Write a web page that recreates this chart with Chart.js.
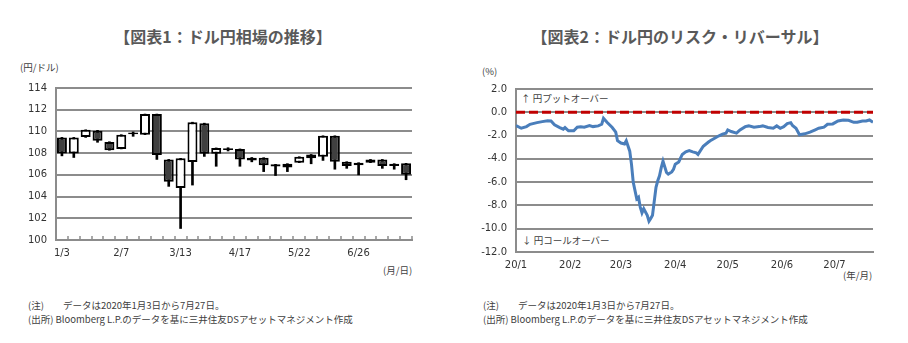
<!DOCTYPE html>
<html lang="ja">
<head>
<meta charset="UTF-8">
<title>ドル円相場とリスク・リバーサル</title>
<script src="https://cdn.jsdelivr.net/npm/chart.js"></script>
<style>
    body {
        margin: 0;
        width: 908px;
        height: 343px;
        background: #ffffff;
        position: relative;
        overflow: hidden;
        font-family: "Noto Sans CJK JP", "DejaVu Sans", sans-serif;
        color: #404040;
    }
    .title {
        position: absolute;
        top: 26px;
        line-height: 20px;
        font-size: 16px;
        font-weight: bold;
        color: #595959;
        text-align: center;
    }
    .unit, .note {
        position: absolute;
        font-size: 9.5px;
        line-height: 13px;
        color: #404040;
        white-space: nowrap;
    }
    .note { font-size: 9.5px; line-height: 14px; }
    canvas { position: absolute; }
</style>
</head>
<body>
<div class="title" style="left:0; width:446px;">【図表1：ドル円相場の推移】</div>
<div class="title" style="left:454px; width:452px;">【図表2：ドル円のリスク・リバーサル】</div>

<div class="unit" style="left:20px; top:61px;">(円/ドル)</div>
<div class="unit" style="left:383px; top:264px;">(月/日)</div>
<div class="unit" style="left:482px; top:65px;">(%)</div>
<div class="unit" style="left:843px; top:269px;">(年/月)</div>
<div class="unit" style="left:521px; top:92px;">↑ 円プットオーバー</div>
<div class="unit" style="left:522px; top:234px;">↓ 円コールオーバー</div>

<div class="note" style="left:28px; top:298px;">(注)　　データは2020年1月3日から7月27日。<br>(出所) Bloomberg L.P.のデータを基に三井住友DSアセットマネジメント作成</div>
<div class="note" style="left:483px; top:298px;">(注)　　データは2020年1月3日から7月27日。<br>(出所) Bloomberg L.P.のデータを基に三井住友DSアセットマネジメント作成</div>

<canvas id="candleChart" width="454" height="197" style="left:0; top:73px;"></canvas>
<canvas id="rrChart" width="454" height="206" style="left:454px; top:74px;"></canvas>

<script>
    // 図表1: weekly USD/JPY (open, high, low, close)
    const weekLabels = ['1/3','1/10','1/17','1/24','1/31','2/7','2/14','2/21','2/28','3/6',
                        '3/13','3/20','3/27','4/3','4/10','4/17','4/24','5/1','5/8','5/15',
                        '5/22','5/29','6/5','6/12','6/19','6/26','7/3','7/10','7/17','7/24'];
    const openVals  = [109.45,107.97,109.48,110.06,109.03,108.39,109.90,109.70,111.60,107.42,
                       104.79,107.18,110.76,107.94,108.45,108.39,107.58,107.58,106.97,106.67,
                       107.12,107.52,107.67,109.60,107.21,106.88,107.12,107.42,107.03,107.06];
    const highVals  = [109.45,109.45,110.15,110.10,109.05,109.70,109.95,111.60,111.60,107.42,
                       107.52,110.85,110.76,108.48,108.50,108.39,107.60,107.58,106.97,107.03,
                       107.67,107.88,109.60,109.60,107.21,107.12,107.42,107.42,107.03,107.06];
    const lowVals   = [107.75,107.60,109.45,109.00,108.27,108.39,109.55,109.70,107.42,104.94,
                       101.06,105.06,107.70,106.79,108.20,106.79,107.20,106.30,105.94,106.30,
                       107.12,107.02,107.33,106.52,106.60,106.00,107.12,106.60,106.52,105.55];
    const closeVals = [107.97,109.45,110.15,109.15,108.27,109.70,109.75,111.60,107.82,105.36,
                       107.52,110.85,107.94,108.48,108.30,107.42,107.33,106.88,106.76,107.03,
                       107.67,107.88,109.60,107.21,106.82,107.12,107.42,106.82,106.82,106.00];

    // 図表2: risk reversal (days from 2020/1/1, %)
    const rrDays   = [0,3,6,8,12,15,18,20,22,25,27,28,30,33,35,37,39,42,44,47,49,50,52,55,57,58,
                      60,62,63,65,66,67,69,70,71,72,73,75,76,77,78,80,81,82,83,84,86,87,89,90,
                      91,93,95,97,99,101,103,104,107,110,111,113,116,118,120,121,123,126,128,131,
                      133,136,139,141,144,147,149,151,153,155,157,158,160,162,165,168,171,173,176,
                      178,181,184,187,190,193,195,198,200,202,204];
    const rrValues = [-1.14,-1.37,-1.23,-1.03,-0.89,-0.80,-0.72,-0.75,-1.08,-1.31,-1.45,-1.31,
                      -1.59,-1.59,-1.28,-1.25,-1.28,-1.14,-1.23,-1.17,-1.03,-0.52,-0.86,-1.31,
                      -1.71,-2.44,-2.64,-2.72,-2.44,-3.34,-4.47,-6.02,-7.43,-7.29,-8.14,-8.64,
                      -8.28,-8.84,-9.35,-9.12,-8.84,-6.44,-5.88,-5.46,-4.75,-4.19,-5.17,-5.31,
                      -5.12,-4.89,-4.47,-4.27,-3.62,-3.40,-3.29,-3.40,-3.48,-3.62,-2.92,-2.55,
                      -2.44,-2.27,-2.02,-1.88,-1.79,-1.51,-1.65,-1.79,-1.51,-1.23,-1.17,-1.28,
                      -1.23,-1.17,-1.31,-1.37,-1.17,-1.37,-1.23,-0.97,-0.89,-1.14,-1.37,-1.93,
                      -1.85,-1.71,-1.51,-1.37,-1.28,-1.03,-1.00,-0.75,-0.66,-0.69,-0.86,-0.86,
                      -0.75,-0.75,-0.66,-0.86,-1.37];
    const monthStarts = [0, 31, 60, 91, 121, 152, 182];
    const monthLabels = ['20/1','20/2','20/3','20/4','20/5','20/6','20/7'];

    const gridGray = '#8c8c8c';
    const tickFont = { family: 'DejaVu Sans', size: 10 };

    // small inward tick marks on the weekly axis
    const innerTicks = {
        id: 'innerTicks',
        afterDraw(chart) {
            const x = chart.scales.x;
            const bottom = chart.chartArea.bottom;
            const ctx = chart.ctx;
            const step = x.getPixelForValue(1) - x.getPixelForValue(0);
            ctx.save();
            ctx.strokeStyle = gridGray;
            ctx.lineWidth = 1.5;
            for (let i = 0; i < weekLabels.length; i++) {
                const px = Math.round(x.getPixelForValue(i) + step / 2);
                ctx.beginPath();
                ctx.moveTo(px, bottom - 1);
                ctx.lineTo(px, bottom - 4);
                ctx.stroke();
            }
            ctx.restore();
        }
    };

    new Chart(document.getElementById('candleChart'), {
        type: 'bar',
        data: {
            labels: weekLabels,
            datasets: [
                {
                    data: openVals.map((o, i) => [o, closeVals[i]]),
                    backgroundColor: openVals.map((o, i) => closeVals[i] < o ? '#404040' : '#ffffff'),
                    borderColor: '#000000',
                    borderWidth: 2,
                    borderSkipped: false,
                    barPercentage: 0.84,
                    categoryPercentage: 1,
                    grouped: false
                },
                {
                    data: lowVals.map((l, i) => [l, highVals[i]]),
                    backgroundColor: '#000000',
                    barThickness: 2,
                    categoryPercentage: 1,
                    grouped: false
                }
            ]
        },
        options: {
            responsive: false,
            animation: false,
            layout: { padding: { left: 0, right: 42, top: 0, bottom: 0 } },
            plugins: { legend: { display: false }, tooltip: { enabled: false } },
            scales: {
                x: {
                    grid: { display: false, drawTicks: false },
                    border: { color: gridGray, width: 2 },
                    ticks: {
                        autoSkip: false,
                        maxRotation: 0,
                        padding: 7,
                        color: '#333333',
                        font: tickFont,
                        callback: (v, i) => i % 5 === 0 ? weekLabels[i] : ''
                    },
                    afterFit: s => { s.height = 30; }
                },
                y: {
                    min: 100,
                    max: 114,
                    grid: { color: gridGray, lineWidth: 2, drawTicks: false },
                    border: { color: gridGray, width: 2 },
                    ticks: { stepSize: 2, padding: 9, color: '#333333', font: tickFont },
                    afterFit: s => { s.width = 56; }
                }
            }
        },
        plugins: [innerTicks]
    });

    new Chart(document.getElementById('rrChart'), {
        type: 'line',
        data: {
            datasets: [
                {
                    data: rrDays.map((d, i) => ({ x: d, y: rrValues[i] })),
                    borderColor: '#4a7ebb',
                    borderWidth: 3,
                    pointRadius: 0,
                    tension: 0
                },
                {
                    data: [{ x: monthStarts[0], y: 0 }, { x: rrDays[rrDays.length - 1], y: 0 }],
                    borderColor: '#c00000',
                    borderWidth: 3,
                    borderDash: [9, 4],
                    pointRadius: 0
                }
            ]
        },
        options: {
            responsive: false,
            animation: false,
            layout: { padding: { left: 0, right: 35, top: 2, bottom: 0 } },
            plugins: { legend: { display: false }, tooltip: { enabled: false } },
            scales: {
                x: {
                    type: 'linear',
                    min: monthStarts[0],
                    max: rrDays[rrDays.length - 1],
                    afterBuildTicks: s => { s.ticks = monthStarts.map(v => ({ value: v })); },
                    grid: { display: false, drawTicks: false },
                    border: { color: gridGray, width: 2 },
                    ticks: {
                        padding: 7,
                        maxRotation: 0,
                        autoSkip: false,
                        color: '#333333',
                        font: tickFont,
                        callback: (v, i) => monthLabels[i]
                    },
                    afterFit: s => { s.height = 28; }
                },
                y: {
                    min: -12,
                    max: 2,
                    grid: { color: gridGray, lineWidth: 2, drawTicks: false },
                    border: { color: gridGray, width: 2 },
                    ticks: {
                        stepSize: 2,
                        padding: 9,
                        color: '#333333',
                        font: tickFont,
                        callback: v => v.toFixed(1)
                    },
                    afterFit: s => { s.width = 62; }
                }
            }
        }
    });
</script>
</body>
</html>
